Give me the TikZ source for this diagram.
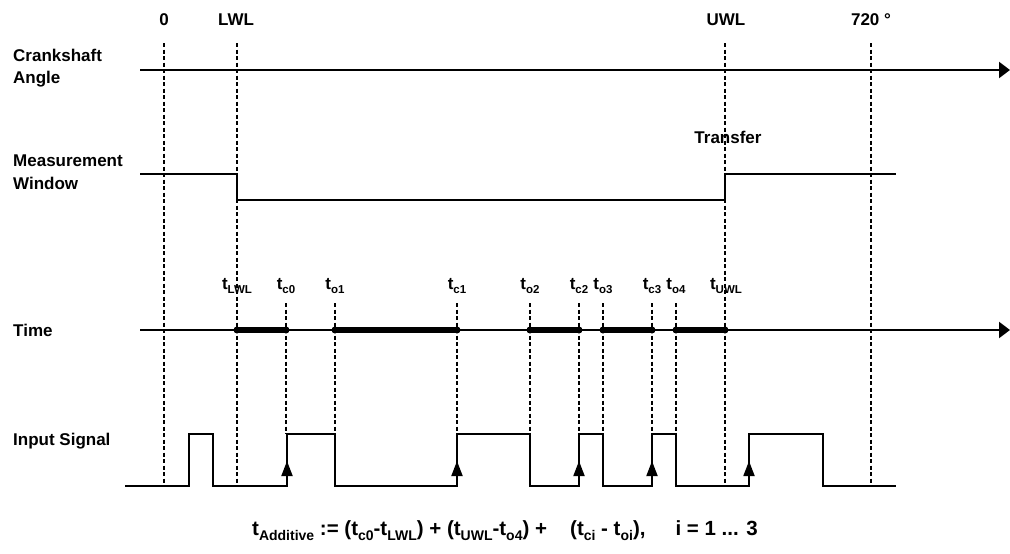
\documentclass[tikz,border=0pt]{standalone}
\usepackage{fontspec}
\setmainfont{Liberation Sans}
\usetikzlibrary{arrows.meta}
\newcommand\tsubx[1]{t\raisebox{-4.5pt}{\fontsize{11.5}{12}\selectfont #1}}
\newcommand\tsuby[1]{t\raisebox{-5.5pt}{\fontsize{14}{15}\selectfont #1}}
\begin{document}
\begin{tikzpicture}[x=1pt,y=-1pt,
  lbl/.style={font=\bfseries\fontsize{17}{22.5}\selectfont, inner sep=0pt, align=left},
  flbl/.style={font=\bfseries\fontsize{20.5}{24}\selectfont, inner sep=0pt},
  axisline/.style={line width=2.2pt, -{Triangle[length=11pt,width=16pt]}},
  plainline/.style={line width=1.8pt},
  dsh/.style={line width=1.3pt, dash pattern=on 4pt off 2.5pt},
  thk/.style={line width=6.5pt},
  dotnode/.style={circle, fill, inner sep=0pt, minimum size=7pt},
  sig/.style={line width=1.8pt},
  edgearrow/.style={line width=1.8pt, -{Triangle[length=15pt,width=11pt]}}
]
\useasboundingbox (0,0) rectangle (1010,554);

% row labels
\node[lbl, anchor=west] (lcrank) at (13,68) {Crankshaft\\Angle};
\node[lbl, anchor=west] (lmeas) at (13,172) {Measurement\\Window};
\node[lbl, anchor=base west] (ltime) at (13,336) {Time};
\node[lbl, anchor=base west] (linput) at (13,445) {Input Signal};

% top labels
\node[lbl, anchor=base] (a0) at (164,25) {0};
\node[lbl, anchor=base] (alwl) at (236,25) {LWL};
\node[lbl, anchor=base] (auwl) at (726,25) {UWL};
\node[lbl, anchor=base] (a720) at (871,25) {720 \textdegree};
\node[lbl, anchor=base] (transfer) at (728,143) {Transfer};

% coordinates
\coordinate (d0t) at (164,43);   \coordinate (d0b) at (164,486);
\coordinate (dLt) at (237,43);   \coordinate (dLb) at (237,486);
\coordinate (dUt) at (725,43);   \coordinate (dUb) at (725,486);
\coordinate (d7t) at (871,43);   \coordinate (d7b) at (871,486);

% long dashed lines
\draw[dsh] (d0t) -- (d0b);
\draw[dsh] (dLt) -- (dLb);
\draw[dsh] (dUt) -- (dUb);
\draw[dsh] (d7t) -- (d7b);

% crankshaft axis
\coordinate (cs) at (140,70); \coordinate (ce) at (1010,70);
\draw[axisline] (cs) -- (ce);

% measurement window
\coordinate (m0) at (140,174);
\coordinate (m1) at (237,174);
\coordinate (m2) at (237,200);
\coordinate (m3) at (725,200);
\coordinate (m4) at (725,174);
\coordinate (m5) at (896,174);
\draw[plainline] (m0) -- (m1) -- (m2) -- (m3) -- (m4) -- (m5);

% time axis
\coordinate (ts) at (140,330); \coordinate (te) at (1010,330);
\draw[axisline] (ts) -- (te);

% time points
\foreach \n/\x in {tLWL/237, tc0/286, to1/335, tc1/457, to2/530, tc2/579, to3/603, tc3/652, to4/676, tUWL/725}{
  \node[dotnode] (\n) at (\x,330) {};
}
\draw[thk] (tLWL.center) -- (tc0.center);
\draw[thk] (to1.center) -- (tc1.center);
\draw[thk] (to2.center) -- (tc2.center);
\draw[thk] (to3.center) -- (tc3.center);
\draw[thk] (to4.center) -- (tUWL.center);

% short dashed lines
\foreach \n/\x in {tc0/286, to1/335, tc1/457, to2/530, tc2/579, to3/603, tc3/652, to4/676}{
  \coordinate (\n top) at (\x,303);
  \coordinate (\n bot) at (\x,434);
  \draw[dsh] (\n top) -- (\n bot);
}

% time labels
\node[lbl, anchor=base] (ltLWL) at (237,289) {\tsubx{LWL}};
\node[lbl, anchor=base] (ltc0) at (286,289) {\tsubx{c0}};
\node[lbl, anchor=base] (lto1) at (335,289) {\tsubx{o1}};
\node[lbl, anchor=base] (ltc1) at (457,289) {\tsubx{c1}};
\node[lbl, anchor=base] (lto2) at (530,289) {\tsubx{o2}};
\node[lbl, anchor=base] (ltc2) at (579,289) {\tsubx{c2}};
\node[lbl, anchor=base] (lto3) at (603,289) {\tsubx{o3}};
\node[lbl, anchor=base] (ltc3) at (652,289) {\tsubx{c3}};
\node[lbl, anchor=base] (lto4) at (676,289) {\tsubx{o4}};
\node[lbl, anchor=base] (ltUWL) at (726,289) {\tsubx{UWL}};

% input signal
\draw[sig] (125,486) -- (189,486) -- (189,434) -- (213,434) -- (213,486)
  -- (287,486) -- (287,434) -- (335,434) -- (335,486)
  -- (457,486) -- (457,434) -- (530,434) -- (530,486)
  -- (579,486) -- (579,434) -- (603,434) -- (603,486)
  -- (652,486) -- (652,434) -- (676,434) -- (676,486)
  -- (749,486) -- (749,434) -- (823,434) -- (823,486) -- (896,486);
\foreach \n/\x in {r1/287, r2/457, r3/579, r4/652, r5/749}{
  \coordinate (\n a) at (\x,486);
  \coordinate (\n b) at (\x,461);
  \draw[edgearrow] (\n a) -- (\n b);
}

% formula
\node[flbl, anchor=base west] (f1) at (252,535) {\tsuby{Additive} := (\tsuby{c0}-\tsuby{LWL}) + (\tsuby{UWL}-\tsuby{o4}) +};
\node[flbl, anchor=base west] (f2) at (570,535) {(\tsuby{ci} - \tsuby{oi}),\hspace{30pt}i = 1 ... 3};
\end{tikzpicture}
\end{document}
